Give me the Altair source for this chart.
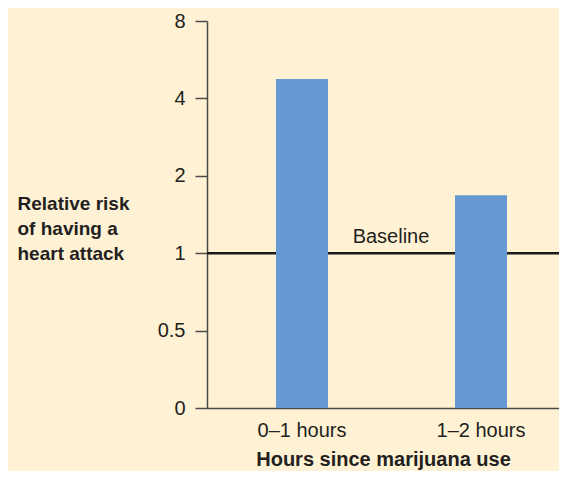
import altair as alt
import pandas as pd

categories = ["0–1 hours", "1–2 hours"]
risk = [4.76, 1.68]
tick_values = [0.25, 0.5, 1, 2, 4, 8]
baseline_value = [1.0]
baseline_label = ["Baseline"]

df = pd.DataFrame({"hours": categories, "risk": risk})
base_df = pd.DataFrame({"risk": baseline_value, "label": baseline_label})

FONT = "Liberation Sans"
W, H = 352, 387
AXIS_COLOR = "#4a4a4a"
TEXT_COLOR = "#231f20"

y_scale = alt.Scale(type="log", base=2, domain=[0.25, 8])
x_scale = alt.Scale(type="band", domain=categories, paddingInner=0.5,
                    paddingOuter=0.2333, align=0.602)

y_axis = alt.Axis(
    values=tick_values,
    format="~g",
    labelExpr="datum.value == 0.25 ? '0' : datum.label",
    title=["Relative risk", "of having a", "heart attack"],
    titleAngle=0,
    titleAlign="left",
    titleBaseline="alphabetic",
    titleX=-190,
    titleY=188,
    titleFontWeight="bold",
    titleFontSize=19,
    titleLineHeight=25,
    titleFont=FONT,
    titleColor=TEXT_COLOR,
    labelFont=FONT,
    labelFontSize=20,
    labelColor=TEXT_COLOR,
    labelPadding=10,
    tickSize=12,
    tickColor=AXIS_COLOR,
    tickWidth=1.5,
    domainColor=AXIS_COLOR,
    domainWidth=1.5,
    grid=False,
)

x_axis = alt.Axis(
    title="Hours since marijuana use",
    titleFontWeight="bold",
    titleFontSize=20,
    titleFont=FONT,
    titleColor=TEXT_COLOR,
    titlePadding=9,
    labelFont=FONT,
    labelFontSize=20,
    labelColor=TEXT_COLOR,
    labelAngle=0,
    labelPadding=12,
    ticks=False,
    domainColor=AXIS_COLOR,
    domainWidth=1.5,
    grid=False,
)

rule = alt.Chart(base_df).mark_rule(color="#1a1a1a", strokeWidth=2.5).encode(
    y=alt.Y("risk:Q", scale=y_scale, axis=y_axis)
)

label = alt.Chart(base_df).mark_text(
    font=FONT, fontSize=20, color=TEXT_COLOR, dy=-16, align="center"
).encode(
    y=alt.Y("risk:Q", scale=y_scale),
    x=alt.value(184),
    text="label:N",
)

bars = alt.Chart(df).mark_bar(color="#6699D3", size=52).encode(
    x=alt.X("hours:N", scale=x_scale, sort=categories, axis=x_axis),
    y=alt.Y("risk:Q", scale=y_scale, axis=y_axis),
    y2=alt.datum(0.25),
)

chart = alt.layer(rule, bars, label).properties(
    width=W,
    height=H,
    background="#FFF2D4",
    padding={"left": 199, "top": 13, "right": 0, "bottom": 63},
    autosize=alt.AutoSizeParams(type="none"),
).configure_view(stroke=None)

chart.save("out.html", embed_options={"renderer": "svg", "actions": False})
